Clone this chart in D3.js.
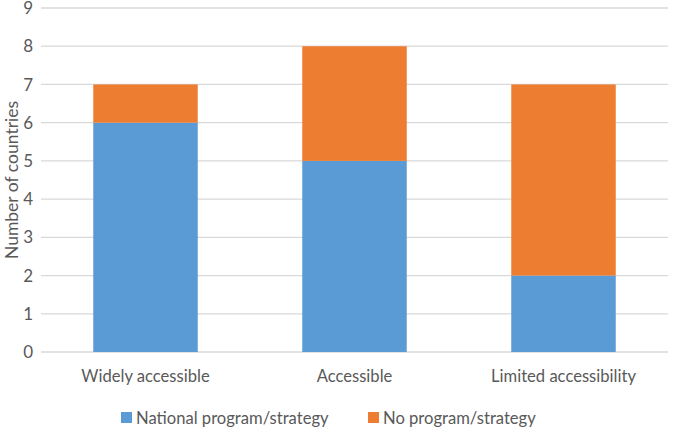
<!DOCTYPE html>
<html>
<head>
<meta charset="utf-8">
<script src="https://cdn.jsdelivr.net/npm/d3@7"></script>
<style>
  body { margin: 0; background: #fff; }
  text { font-family: Lato, "Open Sans", sans-serif; fill: #595959; }
</style>
</head>
<body>
<div class="canva"></div>
<script>
const categories = ['Widely accessible', 'Accessible', 'Limited accessibility'];
const nationalProgram = [6, 5, 2];
const noProgram = [1, 3, 5];
const seriesNames = ['National program/strategy', 'No program/strategy'];
const yTicks = [0, 1, 2, 3, 4, 5, 6, 7, 8, 9];

const colors = ['#5B9BD5', '#ED7D31'];

const width = 675, height = 429;
const margin = { top: 8, right: 7, bottom: 77, left: 41 };
const graphWidth = width - margin.left - margin.right;
const graphHeight = height - margin.top - margin.bottom;

const svg = d3.select('.canva').append('svg')
    .attr('width', width)
    .attr('height', height);

const graph = svg.append('g')
    .attr('transform', `translate(${margin.left}, ${margin.top})`);

const y = d3.scaleLinear().domain([0, 9]).range([graphHeight, 0]);
const x = d3.scaleBand().domain(categories).range([0, graphWidth])
    .paddingInner(0.5).paddingOuter(0.25);

// gridlines
graph.selectAll('line.grid').data(yTicks).enter().append('line')
    .attr('x1', 0).attr('x2', graphWidth)
    .attr('y1', d => y(d)).attr('y2', d => y(d))
    .attr('stroke', '#d9d9d9').attr('stroke-width', 1.3);

// y tick labels
graph.selectAll('text.ytick').data(yTicks).enter().append('text')
    .attr('x', -8).attr('y', d => y(d))
    .attr('dy', '0.36em')
    .attr('text-anchor', 'end')
    .attr('font-size', 17)
    .text(d => d);

// stacked bars
const data = categories.map((c, i) => ({ cat: c, national: nationalProgram[i], none: noProgram[i] }));
const stacked = d3.stack().keys(['national', 'none'])(data);

graph.selectAll('g.layer').data(stacked).enter().append('g')
    .attr('fill', (d, i) => colors[i])
    .selectAll('rect').data(d => d).enter().append('rect')
    .attr('x', d => x(d.data.cat))
    .attr('width', x.bandwidth())
    .attr('y', d => y(d[1]))
    .attr('height', d => y(d[0]) - y(d[1]));

// x labels
graph.selectAll('text.xlab').data(categories).enter().append('text')
    .attr('x', d => x(d) + x.bandwidth() / 2)
    .attr('y', graphHeight + 30)
    .attr('text-anchor', 'middle')
    .attr('font-size', 16.6)
    .text(d => d);

// y axis title
svg.append('text')
    .attr('transform', `translate(18, ${margin.top + graphHeight / 2}) rotate(-90)`)
    .attr('text-anchor', 'middle')
    .attr('font-size', 17.5)
    .text('Number of countries');

// legend
const legendX = [121, 368];
const legend = svg.selectAll('g.legend').data(seriesNames).enter().append('g')
    .attr('transform', (d, i) => `translate(${legendX[i]}, 412)`);
legend.append('rect').attr('width', 11).attr('height', 11)
    .attr('fill', (d, i) => colors[i]);
legend.append('text').attr('x', 15).attr('y', 12)
    .attr('font-size', 16.6)
    .text(d => d);
</script>
</body>
</html>
